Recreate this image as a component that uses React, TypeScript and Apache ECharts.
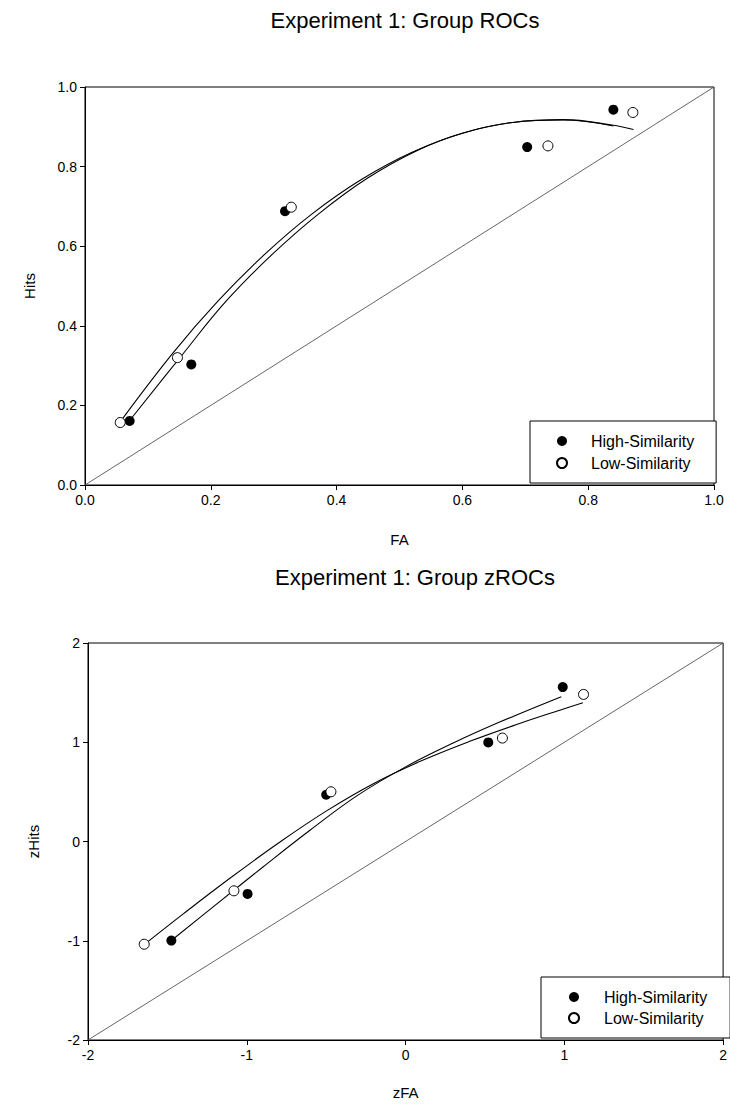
import React, { useEffect, useRef } from "react";
import * as echarts from "echarts";

// ---------- Data: Experiment 1 group ROCs ----------
const seriesNames = ["High-Similarity", "Low-Similarity"];

const rocHighFA = [0.071, 0.169, 0.318, 0.703, 0.84];
const rocHighHits = [0.161, 0.303, 0.688, 0.849, 0.943];
const rocLowFA = [0.056, 0.147, 0.328, 0.736, 0.871];
const rocLowHits = [0.157, 0.32, 0.698, 0.852, 0.936];

// fitted ROC curves
const rocHighCurveFA = [0.071, 0.154, 0.225, 0.298, 0.372, 0.45, 0.53, 0.6, 0.68, 0.76, 0.84];
const rocHighCurveHits = [0.162, 0.326, 0.463, 0.58, 0.682, 0.772, 0.842, 0.884, 0.911, 0.917, 0.902];
const rocLowCurveFA = [0.058, 0.14, 0.212, 0.286, 0.36, 0.44, 0.52, 0.6, 0.68, 0.76, 0.84, 0.872];
const rocLowCurveHits = [0.163, 0.332, 0.463, 0.58, 0.68, 0.768, 0.836, 0.884, 0.911, 0.918, 0.904, 0.893];

// ---------- Data: Experiment 1 group zROCs ----------
const zHighFA = [-1.475, -0.995, -0.5, 0.521, 0.99];
const zHighHits = [-0.998, -0.528, 0.471, 0.998, 1.556];
const zLowFA = [-1.646, -1.081, -0.47, 0.61, 1.121];
const zLowHits = [-1.035, -0.497, 0.501, 1.042, 1.482];

// fitted zROC curves
const zHighCurveFA = [-1.477, -1.2, -0.9, -0.6, -0.3, 0.0, 0.3, 0.6, 0.981];
const zHighCurveHits = [-1.0, -0.643, -0.259, 0.116, 0.467, 0.752, 0.992, 1.208, 1.459];
const zLowCurveFA = [-1.644, -1.4, -1.1, -0.8, -0.5, -0.2, 0.1, 0.4, 0.7, 1.0, 1.117];
const zLowCurveHits = [-1.036, -0.729, -0.363, -0.015, 0.306, 0.585, 0.813, 1.007, 1.179, 1.338, 1.398];

// chance diagonals
const rocDiagonal = [0, 1];
const zDiagonal = [-2, 2];

// axis ranges / ticks
const rocRange = { min: 0, max: 1, interval: 0.2 };
const zRange = { min: -2, max: 2, interval: 1 };

const titles = ["Experiment 1: Group ROCs", "Experiment 1: Group zROCs"];
const axisNames = { rocX: "FA", rocY: "Hits", zX: "zFA", zY: "zHits" };

const zip = (a: number[], b: number[]) => a.map((v, i) => [v, b[i]]);

const FONT = "'Liberation Sans', Arial, Helvetica, sans-serif";

export default function App() {
  const ref = useRef<HTMLDivElement>(null);

  useEffect(() => {
    if (!ref.current) return;
    const chart = echarts.init(ref.current, undefined, { renderer: "svg" });

    const axisBase = (name: string, nameGap: number, gridIndex: number, range: any, digits: number) => ({
      type: "value" as const,
      gridIndex,
      min: range.min,
      max: range.max,
      interval: range.interval,
      name,
      nameLocation: "middle" as const,
      nameGap,
      nameTextStyle: { color: "#000", fontFamily: FONT, fontSize: 15 },
      axisLine: { show: true, onZero: false, lineStyle: { color: "#000", width: 1 } },
      axisTick: { show: true, length: 5, lineStyle: { color: "#000", width: 1 } },
      axisLabel: {
        color: "#000",
        fontFamily: FONT,
        fontSize: 14,
        margin: 8,
        formatter: (v: number) => (digits > 0 ? v.toFixed(digits) : String(Math.round(v))),
      },
      splitLine: { show: false },
    });

    const curve = (xs: number[], ys: number[], gi: number) => ({
      type: "line" as const,
      xAxisIndex: gi,
      yAxisIndex: gi,
      data: zip(xs, ys),
      smooth: 0.4,
      showSymbol: false,
      symbol: "none",
      silent: true,
      lineStyle: { color: "#000", width: 1.1 },
      z: 3,
    });

    const diag = (d: number[], gi: number) => ({
      type: "line" as const,
      xAxisIndex: gi,
      yAxisIndex: gi,
      data: zip(d, d),
      symbol: "none",
      silent: true,
      lineStyle: { color: "#555", width: 0.9 },
      z: 2,
    });

    const filled = (xs: number[], ys: number[], gi: number) => ({
      type: "scatter" as const,
      name: seriesNames[0],
      xAxisIndex: gi,
      yAxisIndex: gi,
      data: zip(xs, ys),
      symbol: "circle",
      symbolSize: 10,
      itemStyle: { color: "#000", opacity: 1 },
      z: 4,
    });

    const open = (xs: number[], ys: number[], gi: number) => ({
      type: "scatter" as const,
      name: seriesNames[1],
      xAxisIndex: gi,
      yAxisIndex: gi,
      data: zip(xs, ys),
      symbol: "circle",
      symbolSize: 10,
      itemStyle: { color: "#fff", borderColor: "#000", borderWidth: 1, opacity: 1 },
      z: 5,
    });

    const legendBase = {
      orient: "vertical" as const,
      itemHeight: 10,
      borderColor: "#000",
      borderWidth: 1,
      backgroundColor: "#fff",
      selectedMode: false,
      textStyle: { fontFamily: FONT, fontSize: 16, color: "#000" },
      data: seriesNames,
    };

    chart.setOption({
      animation: false,
      backgroundColor: "#fff",
      title: [
        {
          text: titles[0],
          left: 400,
          top: 4,
          textAlign: "center",
          textStyle: { fontFamily: FONT, fontSize: 22, fontWeight: "normal", color: "#000" },
        },
        {
          text: titles[1],
          left: 410,
          top: 561,
          textAlign: "center",
          textStyle: { fontFamily: FONT, fontSize: 22, fontWeight: "normal", color: "#000" },
        },
      ],
      legend: [
        {
          ...legendBase,
          left: 530,
          top: 421,
          padding: [12, 22, 12, 26],
          itemWidth: 48,
          itemGap: 6,
        },
        {
          ...legendBase,
          left: 541,
          top: 977,
          padding: [12, 23, 12, 27],
          itemWidth: 50,
          itemGap: 5,
        },
      ],
      grid: [
        { left: 85, top: 87, width: 629, height: 398, show: true, borderColor: "#000", borderWidth: 1, backgroundColor: "transparent" },
        { left: 88, top: 643, width: 640, height: 397, show: true, borderColor: "#000", borderWidth: 1, backgroundColor: "transparent" },
      ],
      xAxis: [
        axisBase(axisNames.rocX, 47, 0, rocRange, 1),
        axisBase(axisNames.zX, 45, 1, zRange, 0),
      ],
      yAxis: [
        axisBase(axisNames.rocY, 48, 0, rocRange, 1),
        axisBase(axisNames.zY, 47, 1, zRange, 0),
      ],
      series: [
        diag(rocDiagonal, 0),
        curve(rocHighCurveFA, rocHighCurveHits, 0),
        curve(rocLowCurveFA, rocLowCurveHits, 0),
        filled(rocHighFA, rocHighHits, 0),
        open(rocLowFA, rocLowHits, 0),
        diag(zDiagonal, 1),
        curve(zHighCurveFA, zHighCurveHits, 1),
        curve(zLowCurveFA, zLowCurveHits, 1),
        filled(zHighFA, zHighHits, 1),
        open(zLowFA, zLowHits, 1),
      ],
    });

    return () => chart.dispose();
  }, []);

  return (
    <div
      ref={ref}
      style={{ position: "absolute", left: 0, top: 0, width: 730, height: 1108, background: "#fff" }}
    />
  );
}
